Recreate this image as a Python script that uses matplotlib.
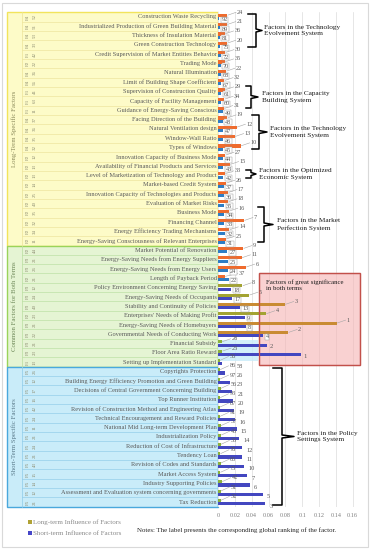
import matplotlib
matplotlib.use("Agg")
import matplotlib.pyplot as plt
from matplotlib.patches import Rectangle
from matplotlib.lines import Line2D

W, H = 371, 550
plt.rcParams['font.family'] = ['Liberation Serif', 'DejaVu Serif']

# ---------------- data ----------------
categories = [
    "Construction Waste Recycling",
    "Industrialized Production of Green Building Material",
    "Thickness of Insulation Material",
    "Green Construction Technology",
    "Credit Supervision of Market Entities Behavior",
    "Trading Mode",
    "Natural Illumination",
    "Limit of Building Shape Coefficient",
    "Supervision of Construction Quality",
    "Capacity of Facility Management",
    "Guidance of Energy-Saving Conscious",
    "Facing Direction of the Building",
    "Natural Ventilation design",
    "Window-Wall Ratio",
    "Types of Windows",
    "Innovation Capacity of Business Mode",
    "Availability of Financial Products and Services",
    "Level of Marketization of Technology and Product",
    "Market-based Credit System",
    "Innovation Capacity of Technologies and Products",
    "Evaluation of Market Risks",
    "Business Mode",
    "Financing Channel",
    "Energy Efficiency Trading Mechanisms",
    "Energy-Saving Consciousness of Relevant Enterprises",
    "Market Potential of Renovation",
    "Energy-Saving Needs from Energy Suppliers",
    "Energy-Saving Needs from Energy Users",
    "Length of Payback Period",
    "Policy Environment Concerning Energy Saving",
    "Energy-Saving Needs of Occupants",
    "Stability and Continuity of Policies",
    "Enterprises' Needs of Making Profit",
    "Energy-Saving Needs of Homebuyers",
    "Governmental Needs of Conducting Work",
    "Financial Subsidy",
    "Floor Area Ratio Reward",
    "Setting up Implementation Standard",
    "Copyrights Protection",
    "Building Energy Efficiency Promotion and Green Building",
    "Decisions of Central Government Concerning Building",
    "Top Runner Institution",
    "Revision of Construction Method and Engineering Atlas",
    "Technical Encouragement and Reward Policies",
    "National Mid Long-term Development Plan",
    "Industrialization Policy",
    "Reduction of Cost of Infrastructure",
    "Tendency Loan",
    "Revision of Codes and Standards",
    "Market Access System",
    "Industry Supporting Policies",
    "Assessment and Evaluation system concerning governments",
    "Tax Reduction",
]

code_ids = (["F4", "F4", "F4", "F4", "F1", "F2", "F4", "F4", "F1", "F1", "F1", "F4", "F4",
             "F4", "F4", "F2", "F2", "F2", "F2", "F2", "F2", "F2", "F2", "F2", "F2"]
            + ["F2", "F3", "F3", "F2", "F3", "F3", "F3", "F2", "F3", "F3", "F3", "F3", "F1"]
            + ["F5"] * 15)
code_nums = (["52", "51", "53", "33", "42", "22", "36", "56", "41", "63", "11", "37", "36",
              "35", "32", "12", "13", "13", "14", "25", "40", "35", "32", "34", "11"]
             + ["44", "21", "26", "21", "12", "24", "40", "23", "21", "22", "21", "23", "13"]
             + ["26", "12", "17", "16", "42", "24", "11", "21", "24", "21", "43", "15", "14", "12", "21"])

long_values = [0.011, 0.0105, 0.008, 0.0105, 0.0085, 0.008, 0.0095, 0.0075, 0.008, 0.0075,
               0.007, 0.011, 0.022, 0.020, 0.027, 0.0085, 0.014, 0.008, 0.0095, 0.012,
               0.012, 0.013, 0.031, 0.0135, 0.009,
               0.030, 0.028, 0.033, 0.008, 0.029, 0.037, 0.0795, 0.057, 0.141, 0.0835,
               0.0045, 0.005, 0.002,
               0.002, 0.002, 0.003, 0.002, 0.002, 0.002, 0.003, 0.0035, 0.003, 0.0025,
               0.003, 0.0025, 0.0045, 0.003, 0.003]
short_values = [0.0015, 0.002, 0.002, 0.0025, 0.003, 0.003, 0.003, 0.0035, 0.004, 0.004,
                0.0055, 0.0058, 0.006, 0.006, 0.0062, 0.0063, 0.0065, 0.0065, 0.007, 0.007,
                0.0072, 0.0073, 0.0075, 0.0078, 0.008,
                0.011, 0.0115, 0.012, 0.0125, 0.016, 0.017, 0.026, 0.032, 0.033, 0.054,
                0.058, 0.098, 0.005,
                0.0085, 0.0143, 0.0162, 0.0182, 0.0195, 0.020, 0.022, 0.0253, 0.029, 0.029,
                0.031, 0.035, 0.038, 0.053, 0.056]

long_labels = ["24", "21", "36", "20", "30", "35", "22", "32", "29", "34", "31", "19", "12",
               "13", "10", "27", "15", "33", "26", "17", "18", "16", "7", "14", "25",
               "9", "11", "6", "37", "8", "5", "3", "4", "1", "2", "28", "23", "56",
               "86", "97", "56", "93", "87", "91", "57", "43", "33", "78", "60", "73", "42", "51", "32"]
short_labels = ["92", "89", "81", "75", "72", "70", "68", "67", "61", "60", "49", "48", "47",
                "46", "45", "44", "43", "42", "37", "36", "35", "34", "33", "32", "31",
                "27", "25", "24", "22", "18", "17", "13", "9", "8", "4", "2", "1", "58",
                "26", "23", "21", "20", "19", "16", "15", "14", "12", "11", "10", "7", "6", "5", "3"]

groups = ["Long-Term Specific Factors", "Common Factors for Both Terms", "Short-Term Specific Factors"]
group_sizes = [25, 13, 15]

x_ticks = [0, 0.02, 0.04, 0.06, 0.08, 0.1, 0.12, 0.14, 0.16]
x_tick_labels = ["0", "0.02", "0.04", "0.06", "0.08", "0.1", "0.12", "0.14", "0.16"]

legend_labels = ["Long-term Influence of Factors", "Short-term Influence of Factors"]
note_text = "Notes: The label presents the corresponding global ranking of the factor."
highlight_text = "Factors of great significance\nin both terms"

# subsystem brackets: (text, first row, last row)
subsystems = [
    ("Factors in the Technology\nEvolvement System", 0, 3),
    ("Factors in the Capacity\nBuilding System", 8, 10),
    ("Factors in the Technology\nEvolvement System", 11, 14),
    ("Factors in the Optimized\nEconomic System", 16, 17),
    ("Factors in the Market\nPerfection System", 20, 24),
    ("Factors in the Policy\nSettings System", 38, 52),
]

# ---------------- styles ----------------
C_ORANGE = "#ef6b2d"
C_OLIVE = "#a3a332"
C_BROWN = "#c98b33"
C_GREEN = "#8bb23b"
C_TEAL = "#2e7dc4"
C_BLUE = "#4347c0"
long_colors = ([C_ORANGE] * 25 + [C_ORANGE] * 4 + [C_OLIVE, C_OLIVE, C_BROWN, C_OLIVE, C_BROWN, C_BROWN]
               + [C_GREEN] * 3 + [C_GREEN] * 15)
short_colors = [C_TEAL] * 29 + [C_BLUE] * 24

# bracket geometry in figure pixels: (x_arm, x_vertical, x_notch, x_text, y_top, y_bot)
bracket_geom = [
    (248, 256, 262, 264, 14, 47),
    (246, 251, 258, 262, 86, 108),
    (252, 259, 267, 270, 115, 149),
    (246, 251, 256, 259, 170, 178),
    (258, 264, 273, 277, 207, 242),
    (273, 282, 294, 297, 368, 505),
]

n = len(categories)
TOP_PX, BOT_PX = 12.3, 506.7
LEFT_PX, RIGHT_PX = 218, 365
PX_PER_UNIT = 842.0

fig = plt.figure(figsize=(W / 100, H / 100), dpi=100)
fig.patch.set_facecolor("white")

ax_bottom = 1 - BOT_PX / H
ax_height = (BOT_PX - TOP_PX) / H

# ---------------- left label panel ----------------
axl = fig.add_axes([7 / W, ax_bottom, (LEFT_PX - 7) / W, ax_height])
axl.set_xlim(0, LEFT_PX - 7)
axl.set_ylim(n - 0.5, -0.5)
axl.axis("off")

band_fill = ["#fdfbc8", "#e5f4d3", "#c9ecf9"]
band_edge = ["#f2e45c", "#9ad35a", "#4aa8dc"]
band_line = ["#ece39a", "#b9dea0", "#8fcbe8"]
band_text = ["#8a8a5a", "#6f8a5a", "#5a7a8a"]
start = 0
for g, size in enumerate(group_sizes):
    y0 = start - 0.5
    axl.add_patch(Rectangle((0, y0), LEFT_PX - 7, size, facecolor=band_fill[g],
                            edgecolor=band_edge[g], lw=1.0, zorder=1, clip_on=False))
    for j in range(start + 1, start + size):
        axl.plot([15, LEFT_PX - 7], [j - 0.5, j - 0.5], color=band_line[g], lw=0.45, zorder=2,
                 clip_on=False)
    axl.plot([15, 15], [y0, y0 + size], color=band_line[g], lw=0.5, zorder=2, clip_on=False)
    axl.text(7.5, start + size / 2 - 0.5, groups[g], rotation=90, ha="center", va="center",
             fontsize=4.9, color=band_text[g], zorder=3)
    start += size

for i in range(n):
    axl.text(20.5, i, code_ids[i], rotation=90, ha="center", va="center", fontsize=3.6,
             color="#8c8c70", zorder=3)
    axl.text(27.5, i, code_nums[i], rotation=90, ha="center", va="center", fontsize=3.6,
             color="#8c8c70", zorder=3)
    axl.text(LEFT_PX - 7 - 1.5, i, categories[i], ha="right", va="center", fontsize=4.55,
             color="#5a5a5a", zorder=3)

# ---------------- main bar axes ----------------
ax = fig.add_axes([LEFT_PX / W, ax_bottom, (RIGHT_PX - LEFT_PX) / W, ax_height])
ax.set_xlim(0, (RIGHT_PX - LEFT_PX) / PX_PER_UNIT)
ax.set_ylim(n - 0.5, -0.5)
for s in ax.spines.values():
    s.set_visible(False)
ax.set_yticks([])
ax.set_xticks(x_ticks)
ax.set_xticklabels(x_tick_labels)
ax.tick_params(axis="x", length=0, labelsize=4.5, labelcolor="#7f7f7f", pad=4.5)
ax.xaxis.grid(True, color="#dcdcdc", lw=0.5, zorder=0)
ax.set_axisbelow(True)

ys = list(range(n))
# light cyan overlay behind Financial Subsidy / Floor Area Ratio rows
ax.add_patch(Rectangle((0, 34.6), 0.047, 2.3, facecolor="#c9ecf9", edgecolor="none",
                       alpha=0.8, zorder=1))
# highlight box
ax.add_patch(Rectangle((0.0487, 27.4), 0.1199, 9.95, facecolor="#f6b3b3", edgecolor="#c2504a",
                       lw=1.0, alpha=0.6, zorder=1.5))
ax.add_patch(Rectangle((0.0487, 27.4), 0.1199, 9.95, facecolor="none", edgecolor="#c2504a",
                       lw=0.9, zorder=4))
ax.text(0.0565, 28.1, highlight_text, fontsize=4.9, va="top", ha="left", color="#1a1a1a",
        linespacing=1.35, zorder=5)

ax.barh([y - 0.17 for y in ys], long_values, height=0.33, color=long_colors, zorder=3)
ax.barh([y + 0.17 for y in ys], short_values, height=0.33, color=short_colors, zorder=3)

for i in range(n):
    L = long_values[i]
    S = short_values[i]
    if i >= 37:
        ly = i - 0.6
    else:
        ly = i - 0.5
    lx = L + 0.0115
    if 0 < i < 35:
        lx = max(lx, short_values[i - 1] + 0.0125)
    ax.plot([L + 0.0008, lx - 0.001], [i - 0.2, ly], color="#a6a6a6", lw=0.4, zorder=4)
    ax.text(lx, ly, long_labels[i], fontsize=4.5, color="#595959",
            ha="left", va="center", zorder=5)
    if i < 35:
        ax.text(S + 0.0025, i + 0.3, short_labels[i], fontsize=4.5, color="#595959",
                ha="left", va="center", zorder=5,
                bbox=dict(boxstyle="square,pad=0.08", facecolor="white", edgecolor="#a0a0a0",
                          lw=0.35))
    elif i < 37:
        ax.text(S + 0.003, i + 0.35, short_labels[i], fontsize=4.7, color="#595959",
                ha="left", va="center", zorder=5)
    else:
        sx = max(S + 0.005, L + 0.0115 + 0.009)
        ax.text(sx, i + 0.45, short_labels[i], fontsize=4.6, color="#595959",
                ha="left", va="center", zorder=5)

# ---------------- brackets ----------------
def fx(px):
    return px / W


def fy(py):
    return 1 - py / H


for (txt, r0, r1), (xa, xv, xn, xt, yt, yb) in zip(subsystems, bracket_geom):
    ym = (yt + yb) / 2
    xs = [xa, xv, xv, xn, xv, xv, xa]
    yv = [yt, yt, ym - 1.5, ym, ym + 1.5, yb, yb]
    fig.add_artist(Line2D([fx(v) for v in xs], [fy(v) for v in yv], color="black", lw=1.1,
                          transform=fig.transFigure, solid_joinstyle="round"))
    fig.text(fx(xt), fy(ym), txt, fontsize=5.2, ha="left", va="center", color="#1a1a1a",
             linespacing=1.4)

# ---------------- legend & note ----------------
leg_colors = ["#b0a235", "#4646c8"]
for k, (lab, col) in enumerate(zip(legend_labels, leg_colors)):
    yc = 521.7 + k * 11.6
    fig.add_artist(Rectangle((fx(28), fy(yc + 2)), 4 / W, 4 / H, transform=fig.transFigure,
                             facecolor=col, edgecolor="none"))
    fig.text(fx(33), fy(yc), lab, fontsize=5.0, color="#8a8a8a", ha="left", va="center")

fig.text(fx(137), fy(530), note_text, fontsize=4.95, color="#262626", ha="left", va="center")

fig.add_artist(Rectangle((fx(2), fy(547)), 366 / W, 544 / H, transform=fig.transFigure,
                         fill=False, edgecolor="#d9d9d9", lw=0.8))

fig.savefig("out.png", dpi=100)
